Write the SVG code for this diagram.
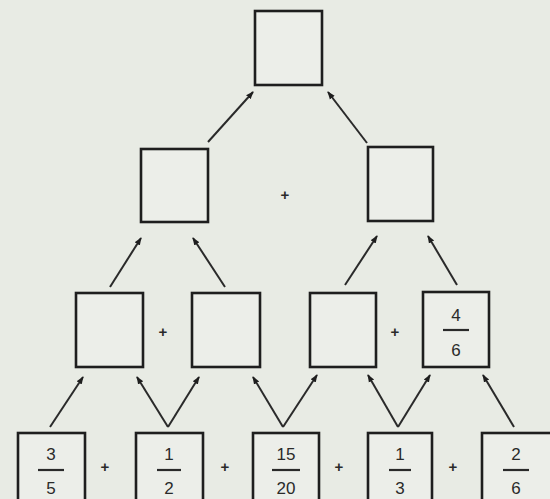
<svg xmlns="http://www.w3.org/2000/svg" width="550" height="499" viewBox="0 0 550 499">
<defs>
<style>
.box{fill:#eceee9;stroke:#1e1e1e;stroke-width:2.6}
.ln{stroke:#2a2a2a;stroke-width:2;fill:none;marker-end:url(#ah)}
.t{font-family:"Liberation Sans",Arial,sans-serif;font-size:17px;fill:#2a2a2a;text-anchor:middle}
.op{font-family:"Liberation Sans",Arial,sans-serif;font-size:15px;font-weight:bold;fill:#2a2a2a;text-anchor:middle}
.bar{stroke:#2a2a2a;stroke-width:2.2}
</style>
<marker id="ah" markerWidth="8" markerHeight="8" refX="7" refY="4" orient="auto" markerUnits="userSpaceOnUse">
<path d="M0,1 L8,4 L0,7 Z" fill="#1e1e1e"/>
</marker>
</defs>
<rect width="550" height="499" fill="#e8ebe4"/>
<g id="connectors">
<line class="ln" x1="208" y1="142" x2="253" y2="92"/>
<line class="ln" x1="367" y1="143" x2="328" y2="92"/>
<line class="ln" x1="110" y1="287" x2="141" y2="238"/>
<line class="ln" x1="225" y1="287" x2="193" y2="238"/>
<line class="ln" x1="345" y1="285" x2="377" y2="236"/>
<line class="ln" x1="457" y1="285" x2="428" y2="236"/>
<line class="ln" x1="50" y1="427" x2="83" y2="377"/>
<line class="ln" x1="168" y1="427" x2="137" y2="377"/>
<line class="ln" x1="168" y1="427" x2="199" y2="377"/>
<line class="ln" x1="283" y1="427" x2="253" y2="377"/>
<line class="ln" x1="283" y1="427" x2="317" y2="375"/>
<line class="ln" x1="398" y1="427" x2="368" y2="375"/>
<line class="ln" x1="398" y1="427" x2="430" y2="375"/>
<line class="ln" x1="514" y1="427" x2="483" y2="375"/>
</g>
<g id="n-top"><rect class="box" x="255" y="11" width="67" height="74"/></g>
<g id="n-r2a"><rect class="box" x="141" y="149" width="67" height="73"/></g>
<g id="n-r2b"><rect class="box" x="368" y="147" width="65" height="74"/></g>
<text class="op" x="285" y="200">+</text>
<g id="n-r3a"><rect class="box" x="76" y="293" width="67" height="74"/></g>
<g id="n-r3b"><rect class="box" x="192" y="293" width="68" height="74"/></g>
<g id="n-r3c"><rect class="box" x="310" y="293" width="66" height="74"/></g>
<g id="n-r3d"><rect class="box" x="423" y="292" width="66" height="75"/>
<text class="t" x="456" y="321">4</text><line class="bar" x1="443" y1="330" x2="469" y2="330"/><text class="t" x="456" y="356">6</text></g>
<text class="op" x="163" y="337">+</text>
<text class="op" x="395" y="337">+</text>
<g id="n-r4a"><rect class="box" x="18" y="433" width="67" height="80"/>
<text class="t" x="51" y="460">3</text><line class="bar" x1="38" y1="470" x2="64" y2="470"/><text class="t" x="51" y="494">5</text></g>
<g id="n-r4b"><rect class="box" x="136" y="433" width="67" height="80"/>
<text class="t" x="169" y="460">1</text><line class="bar" x1="157" y1="470" x2="181" y2="470"/><text class="t" x="169" y="494">2</text></g>
<g id="n-r4c"><rect class="box" x="253" y="433" width="66" height="80"/>
<text class="t" x="286" y="460">15</text><line class="bar" x1="272" y1="470" x2="300" y2="470"/><text class="t" x="286" y="494">20</text></g>
<g id="n-r4d"><rect class="box" x="368" y="433" width="64" height="80"/>
<text class="t" x="400" y="460">1</text><line class="bar" x1="389" y1="470" x2="411" y2="470"/><text class="t" x="400" y="494">3</text></g>
<g id="n-r4e"><rect class="box" x="482" y="433" width="70" height="80"/>
<text class="t" x="516" y="460">2</text><line class="bar" x1="503" y1="470" x2="529" y2="470"/><text class="t" x="516" y="494">6</text></g>
<text class="op" x="105" y="472">+</text>
<text class="op" x="225" y="472">+</text>
<text class="op" x="339" y="472">+</text>
<text class="op" x="453" y="472">+</text>
</svg>
